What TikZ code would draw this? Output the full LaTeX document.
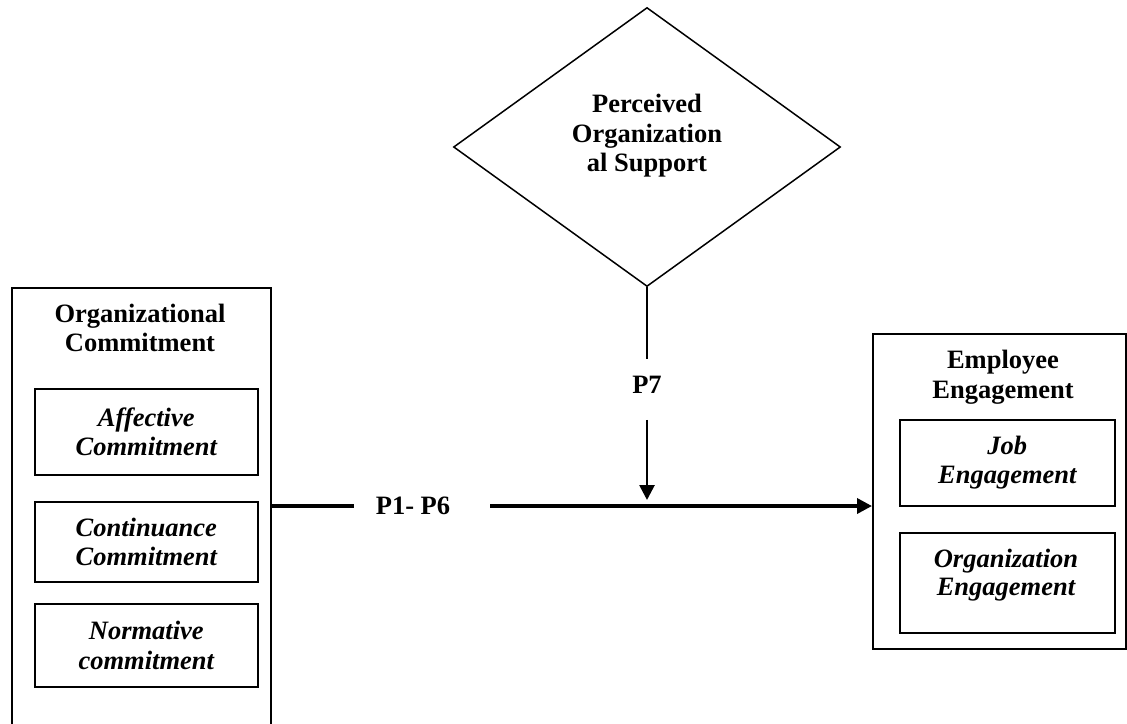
\documentclass[tikz,border=0pt]{standalone}
\usepackage{fontspec}
\setmainfont{Liberation Serif}
\usetikzlibrary{shapes.geometric,arrows.meta}
\begin{document}
\begin{tikzpicture}[x=1pt,y=-1pt,
  every node/.style={font=\fontsize{26.5}{29.5}\selectfont\bfseries, align=center, inner sep=0pt},
  outerbox/.style={draw, line width=1.6pt, anchor=north west},
  subbox/.style={draw, line width=1.6pt, anchor=north west, font=\fontsize{26.5}{29.5}\selectfont\bfseries\itshape},
  posbox/.style={draw, diamond, line width=1.5pt, minimum width=387pt, minimum height=279pt},
  hline/.style={line width=3.5pt},
  vline/.style={line width=2.7pt},
  tip/.style={-{Triangle[length=15pt,width=15pt]}}
]
\clip (0,0) rectangle (1127,723);
\fill[white] (0,0) rectangle (1127,723);

% Perceived Organizational Support
\node[posbox] (pos) at (647,147) {};
\node (postext) at (647,136) {Perceived\\Organization\\al Support};

% Organizational Commitment
\node[outerbox, minimum width=259pt, minimum height=470pt] (oc) at (11,287) {};
\node (octitle) at (140,328) {Organizational\\Commitment};
\node[subbox, minimum width=223pt, minimum height=86pt] (aff) at (34,388) {Affective\\Commitment};
\node[subbox, minimum width=223pt, minimum height=80pt] (cont) at (34,501) {Continuance\\Commitment};
\node[subbox, minimum width=223pt, minimum height=83pt] (norm) at (34,603) {Normative\\commitment};

% Employee Engagement
\node[outerbox, minimum width=253pt, minimum height=315pt] (ee) at (872,333) {};
\node (eetitle) at (1003,377) {Employee\\Engagement};
\node[subbox, minimum width=215pt, minimum height=86pt] (job) at (899,419) {Job\\Engagement};
\node[subbox, minimum width=215pt, minimum height=100pt] (orgeng) at (899,532) {};
\node[font=\fontsize{26.5}{27.5}\selectfont\bfseries\itshape] (orgengtext) at (1006,575) {Organization\\Engagement};

% labels
\node (p16) at (413,506) {P1- P6};
\node (p7) at (647,385) {P7};
\coordinate (junction) at (647,506);

% connectors
\draw[hline] (junction -| oc.east) -- ([xshift=-22pt]p16.west);
\draw[hline,tip] ([xshift=40pt]p16.east) -- (junction -| ee.west);
\draw[vline] (pos.south) -- ([yshift=17pt]p7.north);
\draw[vline,tip] ([yshift=-26pt]p7.south) -- ([yshift=6pt]junction);
\end{tikzpicture}
\end{document}
